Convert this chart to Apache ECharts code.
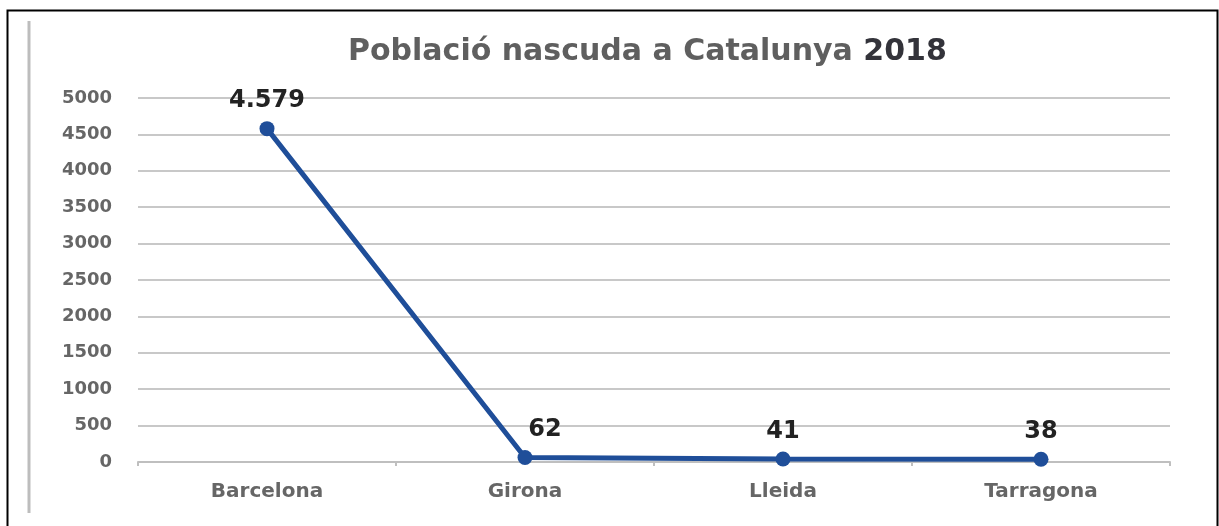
<!DOCTYPE html>
<html>
<head>
<meta charset="utf-8">
<script src="https://cdn.jsdelivr.net/npm/echarts@6/dist/echarts.min.js"></script>
<style>
  html, body { margin: 0; padding: 0; background: #fff; }
  #chart { width: 1219px; height: 526px; }
</style>
</head>
<body>
<div id="chart"></div>
<script>
// dades
var comarques = ["Barcelona", "Girona", "Lleida", "Tarragona"];
var poblacio = [4579, 62, 41, 38];
var yTicks = [0, 500, 1000, 1500, 2000, 2500, 3000, 3500, 4000, 4500, 5000];

var myChart = echarts.init(document.getElementById("chart"));

// l'etiqueta de Girona queda una mica desplaçada a la dreta
var serieData = poblacio.map(function (v, i) {
  return i === 1 ? { value: v, label: { offset: [20, 0] } } : v;
});

var option = {
  backgroundColor: "#fff",
  animation: false,
  title: {
    text: "{a|Població nascuda a Catalunya }{b|2018}",
    left: 343,
    top: 32,
    textStyle: {
      rich: {
        a: { fontFamily: "DejaVu Sans", fontSize: 30, fontWeight: "bold", color: "#5f5f5f" },
        b: { fontFamily: "DejaVu Sans", fontSize: 30, fontWeight: "bold", color: "#33333a" }
      }
    }
  },
  graphic: [
    {
      type: "rect",
      shape: { x: 7.5, y: 10.5, width: 1210, height: 530 },
      style: { fill: "none", stroke: "#000", lineWidth: 2 }
    },
    {
      type: "line",
      shape: { x1: 29, y1: 21, x2: 29, y2: 513 },
      style: { stroke: "#bdbdbd", lineWidth: 3 }
    }
  ],
  grid: { left: 138, right: 49, top: 98, bottom: 64 },
  xAxis: {
    type: "category",
    data: comarques,
    boundaryGap: true,
    axisLine: { lineStyle: { color: "#bfbfbf", width: 2 } },
    axisTick: { show: true, length: 4, lineStyle: { color: "#bfbfbf", width: 2 } },
    axisLabel: {
      color: "#666",
      fontFamily: "DejaVu Sans",
      fontWeight: "bold",
      fontSize: 20,
      margin: 20
    }
  },
  yAxis: {
    type: "value",
    min: yTicks[0],
    max: yTicks[yTicks.length - 1],
    interval: 500,
    axisLine: { show: false },
    axisTick: { show: false },
    splitLine: { lineStyle: { color: "#c8c8c8", width: 2 } },
    axisLabel: {
      color: "#666",
      fontFamily: "DejaVu Sans",
      fontWeight: "bold",
      fontSize: 18,
      margin: 26,
      formatter: function (v) { return String(v); }
    }
  },
  series: [
    {
      name: "Població",
      type: "line",
      data: serieData,
      symbol: "circle",
      symbolSize: 15,
      itemStyle: { color: "#1f4e99" },
      lineStyle: { color: "#1f4e99", width: 5 },
      label: {
        show: true,
        position: "top",
        distance: 8,
        color: "#222",
        fontFamily: "DejaVu Sans",
        fontWeight: "bold",
        fontSize: 24,
        formatter: function (p) {
          return String(p.value).replace(/\B(?=(\d{3})+(?!\d))/g, ".");
        }
      }
    }
  ]
};

myChart.setOption(option);
</script>
</body>
</html>
